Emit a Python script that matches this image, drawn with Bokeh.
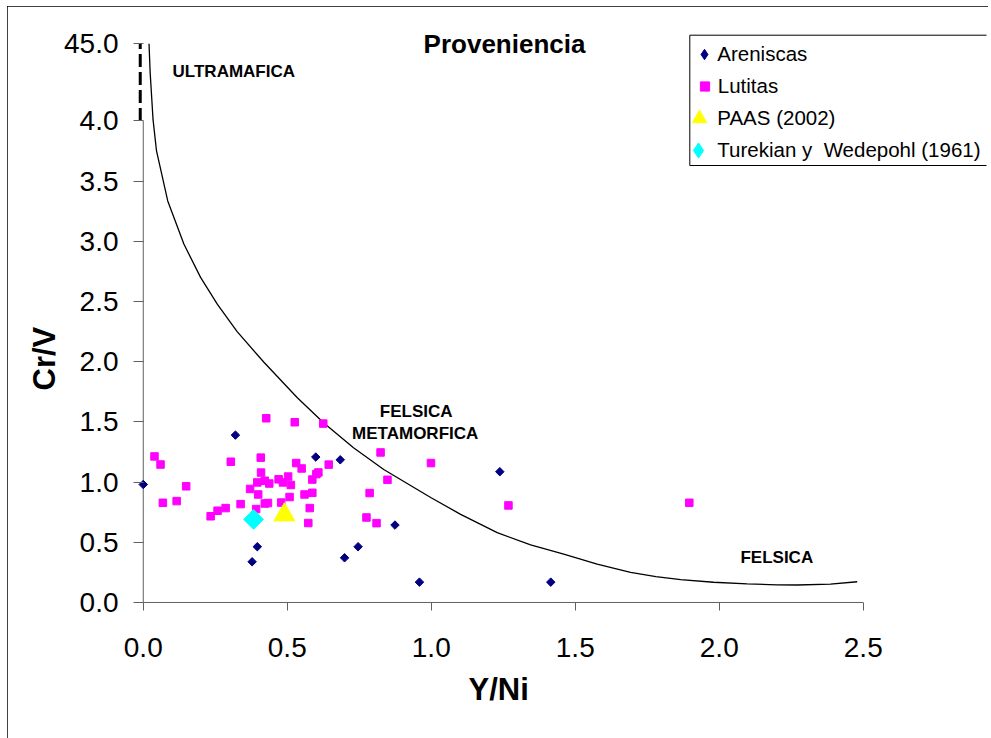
import math
from bokeh.plotting import figure
from bokeh.models import (Range1d, FixedTicker, NumeralTickFormatter, Label, Title,
                          Legend, LegendItem, BoxAnnotation)
from bokeh.embed import file_html
from bokeh.resources import INLINE

# ---------------- data ----------------
ARENISCAS_X = [0.000, 0.320, 0.378, 0.396, 0.599, 0.684, 0.699, 0.746, 0.874, 0.959, 1.238, 1.415]
ARENISCAS_Y = [0.980, 1.390, 0.338, 0.463, 1.208, 1.185, 0.371, 0.463, 0.643, 0.169, 1.086, 0.169]

LUTITAS_X = [0.039, 0.060, 0.068, 0.116, 0.149, 0.234, 0.258, 0.286, 0.304, 0.338,
             0.371, 0.392, 0.396, 0.399, 0.408, 0.409, 0.422, 0.422, 0.427, 0.433,
             0.4375, 0.470, 0.479, 0.485, 0.503, 0.508, 0.5125, 0.526, 0.531, 0.550,
             0.560, 0.573, 0.578, 0.587, 0.587, 0.601, 0.608, 0.625, 0.644, 0.824,
             0.848, 0.786, 0.775, 0.810, 0.999, 1.268, 1.896]
LUTITAS_Y = [1.213, 1.146, 0.828, 0.842, 0.965, 0.716, 0.762, 0.784, 1.169, 0.817,
             0.943, 0.776, 0.997, 0.897, 1.203, 1.079, 1.011, 0.822, 1.530, 0.826,
             0.988, 1.023, 0.830, 0.997, 1.046, 0.876, 0.976, 1.497, 1.158, 1.113,
             0.897, 0.660, 0.784, 1.021, 0.911, 1.066, 1.080, 1.486, 1.145, 1.246,
             1.019, 0.909, 0.706, 0.659, 1.158, 0.806, 0.828]

PAAS_X = [0.490]
PAAS_Y = [0.728]

TUREKIAN_X = [0.383]
TUREKIAN_Y = [0.690]

# boundary curve
CURVE_X = [0.020, 0.024, 0.034, 0.046, 0.085, 0.141, 0.199, 0.257, 0.326, 0.419,
           0.535, 0.627, 0.730, 0.835, 0.998, 1.102, 1.229, 1.345, 1.460, 1.576,
           1.692, 1.780, 1.866, 1.980, 2.097, 2.200, 2.271, 2.386, 2.479]
CURVE_Y = [4.640, 4.400, 4.010, 3.750, 3.335, 2.977, 2.700, 2.478, 2.250, 1.995,
           1.700, 1.490, 1.285, 1.105, 0.872, 0.732, 0.580, 0.478, 0.402, 0.318,
           0.250, 0.215, 0.190, 0.168, 0.155, 0.147, 0.145, 0.152, 0.172]

X_TICKS = [0.0, 0.5, 1.0, 1.5, 2.0, 2.5]
Y_TICKS = [0.0, 0.5, 1.0, 1.5, 2.0, 2.5, 3.0, 3.5, 4.0]
Y_BREAK_TICK = 4.64
Y_BREAK_LABEL = "45.0"

SERIES_NAMES = ["Areniscas", "Lutitas", "PAAS (2002)", "Turekian y  Wedepohl (1961)"]
REGION_NAMES = ["ULTRAMAFICA", "FELSICA", "METAMORFICA", "FELSICA"]
TITLE = "Proveniencia"
X_TITLE = "Y/Ni"
Y_TITLE = "Cr/V"

# ---------------- layout ----------------
FONT = "Liberation Sans"
OFF_X, OFF_Y = 7, 6            # outer chart border position on the page
W, H = 981, 732
ML, MR, MT, MB = 130, 2, 4, 130
PX_PER_X = 288.0
PX_PER_Y = 120.4
X_START = -0.02
Y_START = -0.05
X_END = X_START + (W - ML - MR) / PX_PER_X
Y_END = Y_START + (H - MT - MB) / PX_PER_Y
FRAME_LEFT_PAGE = OFF_X + ML
FRAME_BOTTOM_PAGE = OFF_Y + H - MB
AXIS_COLOR = "#606060"


def dx(page_x):
    return X_START + (page_x - FRAME_LEFT_PAGE) / PX_PER_X


def dy(page_y):
    return Y_START + (FRAME_BOTTOM_PAGE - page_y) / PX_PER_Y


p = figure(width=W, height=H, output_backend="svg", toolbar_location=None,
           x_range=Range1d(X_START, X_END), y_range=Range1d(Y_START, Y_END),
           min_border_left=ML, min_border_right=MR, min_border_top=MT, min_border_bottom=MB)
p.styles = {"margin-left": f"{OFF_X}px", "margin-top": f"{OFF_Y}px",
            "outline": "1px solid #000000", "outline-offset": "-1px"}
p.outline_line_color = None
p.grid.visible = False
p.background_fill_color = "white"
p.border_fill_color = "white"

TICK_FONT_SIZE = "28px"

# x axis (line drawn separately so it stops at 2.5)
xa = p.xaxis[0]
xa.ticker = FixedTicker(ticks=X_TICKS)
xa.formatter = NumeralTickFormatter(format="0.0")
xa.axis_line_color = None
xa.major_tick_line_color = AXIS_COLOR
xa.major_tick_out = 2
xa.major_tick_in = 6
xa.minor_tick_line_color = None
xa.major_label_text_font = FONT
xa.major_label_text_font_size = TICK_FONT_SIZE
xa.major_label_text_color = "black"
xa.major_label_text_line_height = 1.5
xa.major_label_standoff = 27

# y axis (line drawn separately because of the broken top)
ya = p.yaxis[0]
ya.ticker = FixedTicker(ticks=Y_TICKS + [Y_BREAK_TICK])
ya.formatter = NumeralTickFormatter(format="0.0")
ya.major_label_overrides = {Y_BREAK_TICK: Y_BREAK_LABEL}
ya.axis_line_color = None
ya.major_tick_line_color = AXIS_COLOR
ya.major_tick_out = 4
ya.major_tick_in = 6
ya.minor_tick_line_color = None
ya.major_label_text_font = FONT
ya.major_label_text_font_size = TICK_FONT_SIZE
ya.major_label_text_color = "black"
ya.major_label_standoff = 15

# axis titles (titles in the side panels so they can be placed off-centre)
p.add_layout(Title(text=Y_TITLE, align="left", offset=FRAME_BOTTOM_PAGE - 390, standoff=0,
                   text_font=FONT, text_font_size="31px", text_font_style="bold",
                   text_color="black"), "left")
p.add_layout(Title(text=X_TITLE, align="left", offset=468 - FRAME_LEFT_PAGE, standoff=20,
                   vertical_align="bottom",
                   text_font=FONT, text_font_size="31px", text_font_style="bold",
                   text_color="black"), "below")

# axis lines
p.line(x=[X_TICKS[0], X_TICKS[-1]], y=[Y_TICKS[0], Y_TICKS[0]], line_color=AXIS_COLOR, line_width=1)
p.line(x=[X_TICKS[0], X_TICKS[0]], y=[Y_TICKS[0], Y_TICKS[-1]], line_color=AXIS_COLOR, line_width=1)
p.line(x=[X_TICKS[0] - 0.0105, X_TICKS[0] - 0.0105], y=[Y_TICKS[-1], Y_BREAK_TICK],
       line_color="black", line_width=3, line_dash="13 5")

# boundary curve
p.line(x=CURVE_X, y=CURVE_Y, line_color="black", line_width=1.3)

# data series
r_are = p.scatter(x=ARENISCAS_X, y=ARENISCAS_Y, marker="square", size=6, angle=math.pi / 4,
                  fill_color="#000080", line_color="#000080")
r_lut = p.scatter(x=LUTITAS_X, y=LUTITAS_Y, marker="square", size=7.5,
                  fill_color="#FF00FF", line_color="#FF00FF")
r_paas = p.scatter(x=PAAS_X, y=PAAS_Y, marker="triangle", size=21,
                   fill_color="#FFFF00", line_color="#FFFF00")
r_tur = p.scatter(x=TUREKIAN_X, y=TUREKIAN_Y, marker="square", size=14, angle=math.pi / 4,
                  fill_color="#00FFFF", line_color="#00FFFF")

# legend-only glyphs (diamond swatches; NaN position so nothing is drawn in the plot)
k_are = p.scatter(x=[math.nan], y=[math.nan], marker="diamond",
                  fill_color="#000080", line_color="#000080")
k_tur = p.scatter(x=[math.nan], y=[math.nan], marker="diamond",
                  fill_color="#00FFFF", line_color="#00FFFF")

# legend: one single-item legend per row so swatch sizes can differ
LEG_GLYPH_CX = 704.3
LEG_TEXT_X = 717.3
LEG_ROWS = [53.5, 85.5, 118.0, 150.0]
leg_specs = [(k_are, 26, 30), (r_lut, 23, 30), (r_paas, 36, 36), (k_tur, 38, 38)]
for (rend, gw, gh), name, row in zip(leg_specs, SERIES_NAMES, LEG_ROWS):
    raw = LEG_TEXT_X - (LEG_GLYPH_CX + gw / 2)
    standoff = max(0, int(round(raw)))
    shift = min(0.0, raw)
    lx = (LEG_GLYPH_CX + shift - gw / 2) - FRAME_LEFT_PAGE
    ly = FRAME_BOTTOM_PAGE - (row + gh / 2)
    leg = Legend(items=[LegendItem(label=name, renderers=[rend])], location=(lx, ly),
                 glyph_width=gw, glyph_height=gh, padding=0, margin=0, spacing=0,
                 label_standoff=standoff,
                 label_text_font=FONT, label_text_font_size="20.5px", label_text_color="black",
                 border_line_color=None, background_fill_alpha=0)
    p.add_layout(leg)

# legend frame
p.add_layout(BoxAnnotation(left=dx(689.3), right=dx(1000), top=dy(34.7), bottom=dy(165),
                           fill_alpha=0, line_color="black", line_width=1, line_alpha=1))


# texts
def add_text(txt, px, py, size):
    p.add_layout(Label(x=dx(px), y=dy(py), text=txt, text_font=FONT, text_font_size=size,
                       text_font_style="bold", text_color="black",
                       text_align="center", text_baseline="middle"))


add_text(TITLE, 504, 43, "26px")
add_text(REGION_NAMES[0], 233.3, 71, "17px")
add_text(REGION_NAMES[1], 415.7, 411.2, "17px")
add_text(REGION_NAMES[2], 414.7, 433.3, "17px")
add_text(REGION_NAMES[3], 776.3, 557, "17px")

open("out.html", "w").write(file_html(p, INLINE))
